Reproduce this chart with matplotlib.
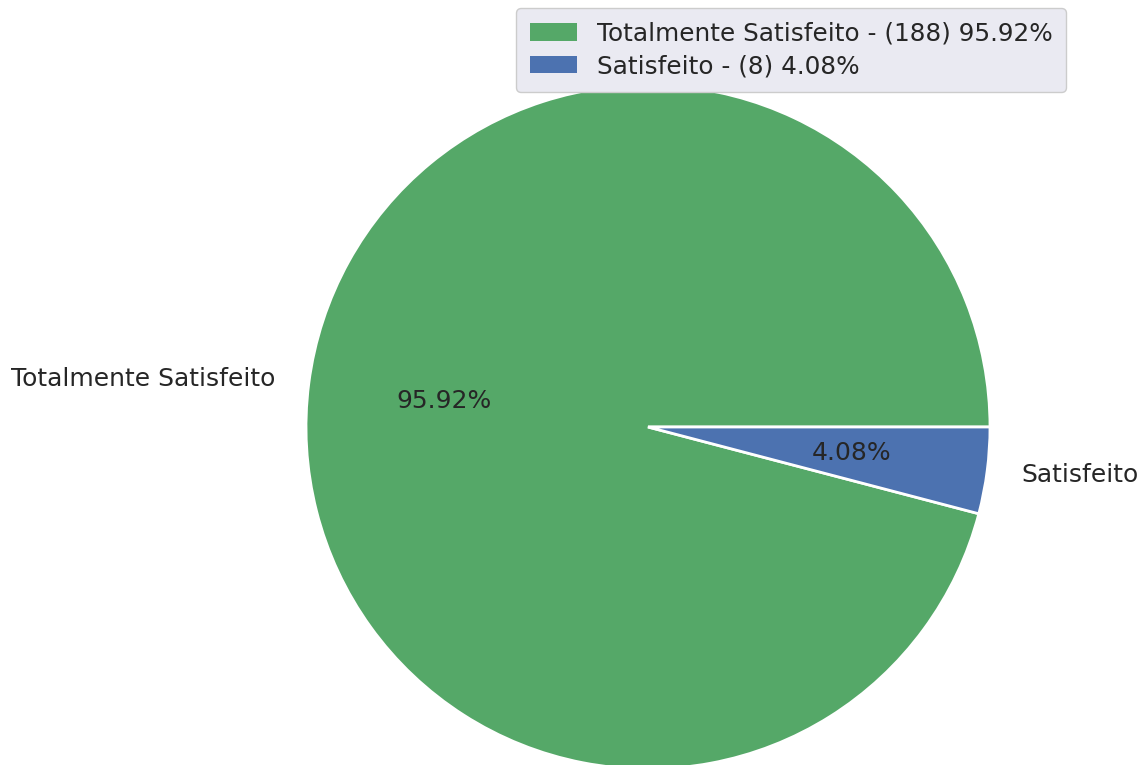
import matplotlib
matplotlib.use("Agg")
import matplotlib.pyplot as plt
from matplotlib.patches import Patch
import seaborn as sns

sns.set_theme(style="darkgrid")
plt.rcParams['font.family'] = ['DejaVu Sans']

categories = ["Totalmente Satisfeito", "Satisfeito"]
counts = [188, 8]
colors = ["#55A868", "#4C72B0"]

total = sum(counts)
pcts = [c / total * 100 for c in counts]
legend_labels = [f"{cat} - ({c}) {p:.2f}%" for cat, c, p in zip(categories, counts, pcts)]

W, H = 1138, 765
fig = plt.figure(figsize=(W / 100, H / 100), dpi=100)
cx, cy, r = 648, 427, 342
ax = fig.add_axes([(cx - r) / W, (H - cy - r) / H, 2 * r / W, 2 * r / H])
wedges, texts, autotexts = ax.pie(
    counts, labels=categories, colors=colors, autopct="%.2f%%",
    wedgeprops=dict(edgecolor="white", linewidth=2),
    textprops=dict(fontsize=18, color="#262626"))
for t in autotexts:
    t.set_fontsize(18)
ax.set_xlim(-1, 1)
ax.set_ylim(-1, 1)
ax.set_aspect("auto")

handles = [Patch(facecolor=c, edgecolor="none") for c in colors]
leg = fig.legend(handles, legend_labels, loc="upper right",
                 bbox_to_anchor=(1066 / W, 1 - 8 / H), borderaxespad=0.0,
                 fontsize=17.8, frameon=True, facecolor="#EAEAF2",
                 edgecolor="#CCCCCC", framealpha=1.0, fancybox=True,
                 handlelength=1.9, labelspacing=0.35, borderpad=0.55)
for t in leg.get_texts():
    t.set_color("#262626")

fig.savefig("out.png", dpi=100, facecolor="white")
